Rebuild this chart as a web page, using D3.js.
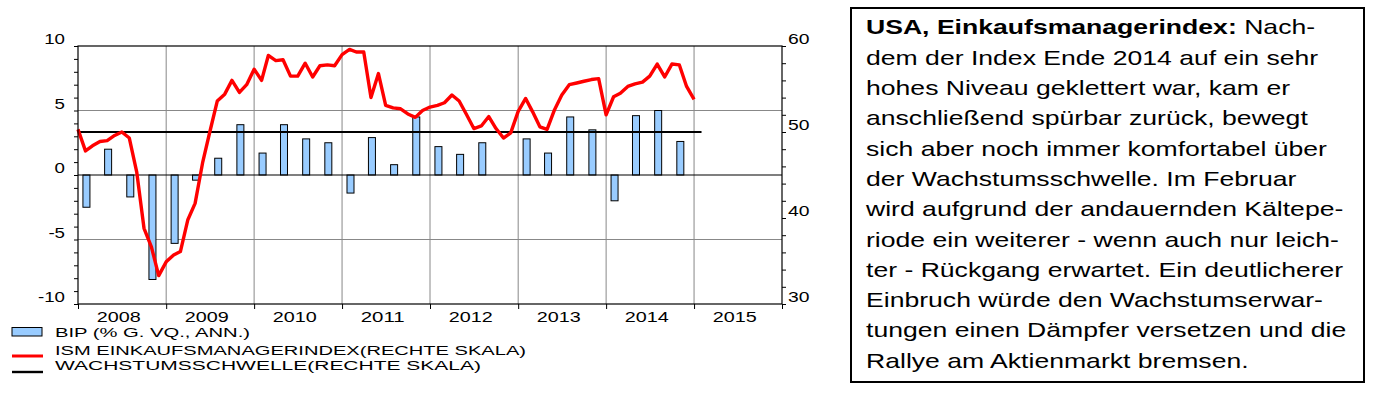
<!DOCTYPE html>
<html>
<head>
<script src="https://cdn.jsdelivr.net/npm/d3@7"></script>
  <meta charset="utf-8">
  <title>USA Einkaufsmanagerindex</title>
    <style>
        body { margin: 0; background: #FFF; }
        svg { display: block; font-family: Arial, "Liberation Sans", sans-serif; }
        .grid line { stroke: #888; stroke-width: 1; }
        .axis path, .axis line { stroke: #000; }
        .axis text { font-size: 14px; fill: #000; }
        .legend text { font-size: 12.5px; fill: #000; }
        .note text { font-size: 20px; fill: #000; }
    </style>
</head>
<body>
    <script>
        // BIP, quarterly (% g. Vq., ann.)
        var gdpQuarters = ['2008Q1','2008Q2','2008Q3','2008Q4','2009Q1','2009Q2','2009Q3','2009Q4',
                           '2010Q1','2010Q2','2010Q3','2010Q4','2011Q1','2011Q2','2011Q3','2011Q4',
                           '2012Q1','2012Q2','2012Q3','2012Q4','2013Q1','2013Q2','2013Q3','2013Q4',
                           '2014Q1','2014Q2','2014Q3','2014Q4'];
        var gdpValues = [-2.5, 2.0, -1.7, -8.1, -5.3, -0.4, 1.3, 3.9,
                          1.7, 3.9, 2.8, 2.5, -1.4, 2.9, 0.8, 4.5,
                          2.2, 1.6, 2.5, 0.0, 2.8, 1.7, 4.5, 3.5,
                         -2.0, 4.6, 5.0, 2.6];

        // ISM Einkaufsmanagerindex, monthly from Jan 2008
        var ismStart = '2008-01';
        var ismValues = [
            50.3, 47.8, 48.4, 48.9, 49.0, 49.6, 50.0, 49.3, 45.3, 38.8, 36.6, 33.3,
            34.9, 35.7, 36.1, 39.8, 41.7, 46.4, 50.0, 53.6, 54.4, 56.0, 54.6, 55.5,
            57.3, 56.0, 58.9, 58.3, 58.4, 56.5, 56.5, 58.0, 56.4, 57.7, 57.8, 57.7,
            59.0, 59.6, 59.3, 59.3, 54.0, 56.8, 53.1, 52.8, 52.7, 52.1, 51.7, 52.5,
            52.9, 53.1, 53.4, 54.3, 53.6, 52.0, 50.4, 50.7, 51.8, 50.4, 49.3, 49.9,
            52.4, 53.9, 52.4, 50.6, 50.3, 52.6, 54.3, 55.5, 55.7, 55.9, 56.1, 56.2,
            52.0, 54.1, 54.5, 55.3, 55.6, 55.8, 56.5, 57.9, 56.4, 57.9, 57.8, 55.3,
            53.8];

        // Wachstumsschwelle
        var thresholdDates = ['2008-01', '2015-02'];
        var thresholdValues = [50, 50];

        var years = [2008, 2009, 2010, 2011, 2012, 2013, 2014, 2015];
        var leftTicks = [-10, -5, 0, 5, 10];
        var rightTicks = [30, 40, 50, 60];

        var legendLabels = ['BIP (% G. VQ., ANN.)', 'ISM EINKAUFSMANAGERINDEX(RECHTE SKALA)', 'WACHSTUMSSCHWELLE(RECHTE SKALA)'];

        var noteTitle = 'USA, Einkaufsmanagerindex:';
        var noteLines = [' Nach-', 'dem der Index Ende 2014 auf ein sehr', 'hohes Niveau geklettert war, kam er',
            'anschließend spürbar zurück, bewegt', 'sich aber noch immer komfortabel über',
            'der Wachstumsschwelle. Im Februar', 'wird aufgrund der andauernden Kältepe-',
            'riode ein weiterer - wenn auch nur leich-', 'ter - Rückgang erwartet. Ein deutlicherer',
            'Einbruch würde den Wachstumserwar-', 'tungen einen Dämpfer versetzen und die',
            'Rallye am Aktienmarkt bremsen.'];

        var parseMonth = d3.timeParse('%Y-%m');
        var W = 1376, H = 396;
        var plot = {left: 78, right: 782, top: 46, bottom: 304};

        var svg = d3.select('body').append('svg').attr('width', W).attr('height', H);

        var x = d3.scaleTime()
            .domain([new Date(2008, 0, 1), new Date(2016, 0, 1)])
            .range([plot.left, plot.right]);
        var yL = d3.scaleLinear().domain([-10, 10]).range([plot.bottom, plot.top]);
        var yR = d3.scaleLinear().domain([30, 60]).range([plot.bottom, plot.top]);

        // text is drawn wide in the original, so stretch glyphs to measured widths
        function wide(s, unit) {
            var n = 0;
            for (var i = 0; i < s.length; i++) n += (s[i] === '-') ? 0.6 : 1;
            return n * unit;
        }

        // grid
        var grid = svg.append('g').attr('class', 'grid');
        grid.selectAll('line.v').data(years.slice(1))
            .enter().append('line')
            .attr('x1', function(d){ return x(new Date(d, 0, 1)); })
            .attr('x2', function(d){ return x(new Date(d, 0, 1)); })
            .attr('y1', plot.top).attr('y2', plot.bottom);
        grid.selectAll('line.h').data([-5, 5])
            .enter().append('line')
            .attr('x1', plot.left).attr('x2', plot.right)
            .attr('y1', function(d){ return yL(d); })
            .attr('y2', function(d){ return yL(d); });

        // bars
        var barW = 7;
        function quarterDate(q) {
            var yr = +q.slice(0, 4), qi = +q.slice(5) - 1;
            return new Date(yr, qi * 3 + 1, 5);
        }
        svg.append('g').selectAll('rect')
            .data(gdpValues)
            .enter().append('rect')
            .attr('x', function(d, i){ return x(quarterDate(gdpQuarters[i])) - barW / 2; })
            .attr('y', function(d){ return yL(Math.max(0, d)); })
            .attr('width', barW)
            .attr('height', function(d){ return Math.abs(yL(d) - yL(0)); })
            .attr('fill', '#99ccff')
            .attr('stroke', '#000')
            .attr('stroke-width', 1);

        // zero line
        svg.append('line')
            .attr('x1', plot.left).attr('x2', plot.right)
            .attr('y1', yL(0)).attr('y2', yL(0))
            .attr('stroke', '#000').attr('stroke-width', 1.2);

        // threshold
        var thrLine = d3.line()
            .x(function(d, i){ return x(parseMonth(thresholdDates[i])); })
            .y(function(d){ return yR(d); });
        svg.append('path')
            .attr('d', thrLine(thresholdValues))
            .attr('fill', 'none').attr('stroke', '#000').attr('stroke-width', 2.2);

        // ISM
        var m0 = parseMonth(ismStart);
        var ismLine = d3.line()
            .x(function(d, i){ return x(d3.timeMonth.offset(m0, i)); })
            .y(function(d){ return yR(d); });
        svg.append('path')
            .attr('d', ismLine(ismValues))
            .attr('fill', 'none').attr('stroke', '#ff0000')
            .attr('stroke-width', 3.4).attr('stroke-linejoin', 'round');

        // frame
        svg.append('rect')
            .attr('x', plot.left).attr('y', plot.top)
            .attr('width', plot.right - plot.left).attr('height', plot.bottom - plot.top)
            .attr('fill', 'none').attr('stroke', '#000').attr('stroke-width', 1.2);

        // left axis
        var axL = svg.append('g').attr('class', 'axis')
            .attr('transform', 'translate(' + plot.left + ',0)')
            .call(d3.axisLeft(yL).tickValues(d3.range(-10, 11)).tickSize(4).tickSizeOuter(0)
                .tickFormat(function(d){ return leftTicks.indexOf(d) >= 0 ? String(d) : ''; }));
        axL.select('.domain').remove();
        axL.selectAll('text')
            .attr('x', -13).attr('dy', '-0.15em')
            .attr('textLength', function(d){ var s = leftTicks.indexOf(d) >= 0 ? String(d) : ''; return s ? wide(s, 10.4) : null; })
            .attr('lengthAdjust', 'spacingAndGlyphs');

        // right axis
        var axR = svg.append('g').attr('class', 'axis')
            .attr('transform', 'translate(' + plot.right + ',0)')
            .call(d3.axisRight(yR).tickValues(d3.range(30, 61, 2)).tickSize(4).tickSizeOuter(0)
                .tickFormat(function(d){ return rightTicks.indexOf(d) >= 0 ? String(d) : ''; }));
        axR.select('.domain').remove();
        axR.selectAll('text')
            .attr('x', 6).attr('dy', '-0.15em')
            .attr('textLength', function(d){ return rightTicks.indexOf(d) >= 0 ? 21.5 : null; })
            .attr('lengthAdjust', 'spacingAndGlyphs');

        // bottom axis
        var axB = svg.append('g').attr('class', 'axis')
            .attr('transform', 'translate(0,' + plot.bottom + ')')
            .call(d3.axisBottom(x).ticks(d3.timeYear).tickSize(5).tickSizeOuter(0).tickFormat(''));
        axB.select('.domain').remove();
        svg.append('g').attr('class', 'axis').selectAll('text')
            .data(years)
            .enter().append('text')
            .attr('x', function(d){ return x(new Date(d, 6, 1)) - 3; })
            .attr('y', 321.5)
            .attr('text-anchor', 'middle')
            .attr('textLength', 44)
            .attr('lengthAdjust', 'spacingAndGlyphs')
            .text(function(d){ return d; });

        // legend
        var lg = svg.append('g').attr('class', 'legend');
        lg.append('rect').attr('x', 12).attr('y', 327.5).attr('width', 30).attr('height', 8.5)
            .attr('fill', '#99ccff').attr('stroke', '#000').attr('stroke-width', 1);
        lg.append('line').attr('x1', 12).attr('x2', 43).attr('y1', 356).attr('y2', 356)
            .attr('stroke', '#ff0000').attr('stroke-width', 3);
        lg.append('line').attr('x1', 12).attr('x2', 43).attr('y1', 372).attr('y2', 372)
            .attr('stroke', '#000').attr('stroke-width', 2.4);
        var legY = [336.5, 355, 370];
        var legLen = [195, 471, 426];
        lg.selectAll('text').data(legendLabels)
            .enter().append('text')
            .attr('x', 55)
            .attr('y', function(d, i){ return legY[i]; })
            .attr('textLength', function(d, i){ return legLen[i]; })
            .attr('lengthAdjust', 'spacingAndGlyphs')
            .text(function(d){ return d; });

        // note box
        var note = svg.append('g').attr('class', 'note');
        note.append('rect').attr('x', 851).attr('y', 8).attr('width', 513).attr('height', 374)
            .attr('fill', 'none').attr('stroke', '#000').attr('stroke-width', 2);
        var nt = note.append('g').attr('transform', 'translate(866,0) scale(1.33,1)');
        nt.selectAll('text').data(noteLines)
            .enter().append('text')
            .attr('x', 0)
            .attr('y', function(d, i){ return 34.5 + i * 30.3; })
            .each(function(d, i){
                var t = d3.select(this);
                if (i === 0) t.append('tspan').attr('font-weight', 'bold').text(noteTitle);
                t.append('tspan').text(d);
            });
    </script>
</body>
</html>
